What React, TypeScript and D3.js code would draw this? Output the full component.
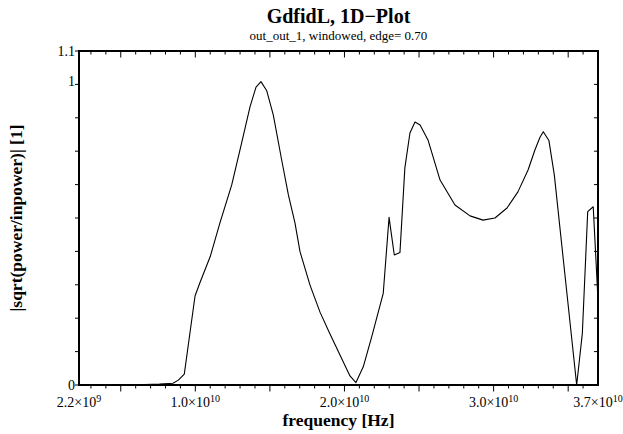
import * as d3 from 'd3';
import { useEffect, useRef } from 'react';

// frequency in GHz
const freqs = [
  2.2, 6.1, 7.6, 8.5, 8.86, 9.26, 9.98, 10.3, 11.0, 11.65, 12.44, 13.11, 13.67, 14.07, 14.4,
  14.79, 15.23, 15.79, 16.24, 16.68, 17.02, 17.69, 18.36, 19.03, 20.37, 20.77, 21.26, 21.83,
  22.27, 22.6, 22.99, 23.34, 23.72, 24.05, 24.39, 24.73, 25.07, 25.6, 26.41, 27.41, 28.42,
  29.29, 30.09, 30.9, 31.63, 32.31, 32.77, 33.11, 33.33, 33.71, 34.07, 35.57, 35.95, 36.31,
  36.68, 37.0,
];
const amps = [
  0, 0.001, 0.003, 0.006, 0.016, 0.036, 0.293, 0.336, 0.423, 0.534, 0.659, 0.798, 0.917, 0.981, 0.999,
  0.969, 0.889, 0.741, 0.626, 0.534, 0.439, 0.329, 0.24, 0.168, 0.03, 0.008, 0.06, 0.159,
  0.241, 0.302, 0.552, 0.428, 0.436, 0.715, 0.83, 0.866, 0.856, 0.807, 0.675, 0.593, 0.557,
  0.543, 0.55, 0.583, 0.636, 0.708, 0.774, 0.816, 0.834, 0.805, 0.692, 0.0, 0.17, 0.571,
  0.587, 0.28,
];

const xTickLabels = [2.2e9, 1e10, 2e10, 3e10, 3.7e10];
const yTickLabels = [0, 1, 1.1];
const title = 'GdfidL, 1D\u2212Plot';
const subtitle = 'out_out_1, windowed, edge= 0.70';
const xTitle = 'frequency [Hz]';
const yTitle = '|sqrt(power/inpower)| [1]';

const W = 623;
const H = 434;
const FONT = '"Liberation Serif", "Times New Roman", serif';

function App() {
  const ref = useRef<SVGSVGElement>(null);

  useEffect(() => {
    const margin = { left: 79, top: 51, right: 25, bottom: 49 };
    const x = d3.scaleLinear().domain([2.2e9, 3.7e10]).range([margin.left, W - margin.right]);
    const y = d3.scaleLinear().domain([0, 1.1]).range([H - margin.bottom, margin.top]);
    const [x0, x1] = x.range();
    const [y0, y1] = y.range();

    const svg = d3.select(ref.current);
    svg.selectAll('*').remove();

    // curve
    const line = d3.line<number>()
      .x((d, i) => x(freqs[i] * 1e9))
      .y((d) => y(d));
    svg.append('path')
      .datum(amps)
      .attr('d', line)
      .attr('fill', 'none')
      .attr('stroke', '#000')
      .attr('stroke-width', 1.1)
      .attr('stroke-linejoin', 'round');

    // x ticks, every 1e9, longer on multiples of 5e9 (top and bottom, pointing down)
    const xt = d3.range(3, 37).map((v) => v * 1e9);
    [y0, y1].forEach((yy) => {
      svg.append('g').selectAll('line')
        .data(xt)
        .enter()
        .append('line')
        .attr('x1', (d) => x(d))
        .attr('x2', (d) => x(d))
        .attr('y1', yy)
        .attr('y2', (d) => yy + (Math.round(d / 1e9) % 5 === 0 ? 6.5 : 3.5))
        .attr('stroke', '#000')
        .attr('stroke-width', 1);
    });

    // y ticks, range split in ten (left and right, pointing left)
    const yt = d3.range(0, 11).map((i) => i * 0.11);
    [x0, x1].forEach((xx) => {
      svg.append('g').selectAll('line')
        .data(yt)
        .enter()
        .append('line')
        .attr('x1', xx)
        .attr('x2', xx - 4)
        .attr('y1', (d) => y(d))
        .attr('y2', (d) => y(d))
        .attr('stroke', '#000')
        .attr('stroke-width', 1);
    });

    // frame
    svg.append('rect')
      .attr('x', x0)
      .attr('y', y1)
      .attr('width', x1 - x0)
      .attr('height', y0 - y1)
      .attr('fill', 'none')
      .attr('stroke', '#000')
      .attr('stroke-width', 2);

    // x tick labels as m×10^e
    const xl = svg.append('g')
      .attr('font-family', FONT)
      .attr('font-size', 14)
      .attr('fill', '#000');
    xTickLabels.forEach((v) => {
      const e = Math.floor(Math.log10(v));
      const m = (v / 10 ** e).toFixed(1);
      const t = xl.append('text')
        .attr('x', x(v))
        .attr('y', 407)
        .attr('text-anchor', 'middle');
      t.append('tspan').text(`${m}\u00d710`);
      t.append('tspan').attr('dy', -5.5).attr('font-size', 10).text(String(e));
    });

    // y tick labels
    svg.append('g')
      .selectAll('text')
      .data(yTickLabels)
      .enter()
      .append('text')
      .attr('x', x0 - 4)
      .attr('y', (d) => y(d))
      .attr('dy', '0.35em')
      .attr('text-anchor', 'end')
      .attr('font-family', FONT)
      .attr('font-size', 14)
      .attr('fill', '#000')
      .text((d) => String(d));

    // titles
    const cx = (x0 + x1) / 2;
    svg.append('text')
      .attr('x', cx)
      .attr('y', 23)
      .attr('text-anchor', 'middle')
      .attr('font-family', FONT)
      .attr('font-weight', 'bold')
      .attr('font-size', 20)
      .text(title);
    svg.append('text')
      .attr('x', cx)
      .attr('y', 40)
      .attr('text-anchor', 'middle')
      .attr('font-family', FONT)
      .attr('font-size', 13)
      .text(subtitle);
    svg.append('text')
      .attr('x', cx)
      .attr('y', 426)
      .attr('text-anchor', 'middle')
      .attr('font-family', FONT)
      .attr('font-weight', 'bold')
      .attr('font-size', 17.5)
      .text(xTitle);
    svg.append('text')
      .attr('transform', `translate(22,${(y0 + y1) / 2}) rotate(-90)`)
      .attr('text-anchor', 'middle')
      .attr('font-family', FONT)
      .attr('font-weight', 'bold')
      .attr('font-size', 17.5)
      .text(yTitle);
  }, []);

  return (
    <svg
      ref={ref}
      width={W}
      height={H}
      style={{ position: 'absolute', left: 0, top: 0, background: '#fff' }}
    />
  );
}

export default App;
